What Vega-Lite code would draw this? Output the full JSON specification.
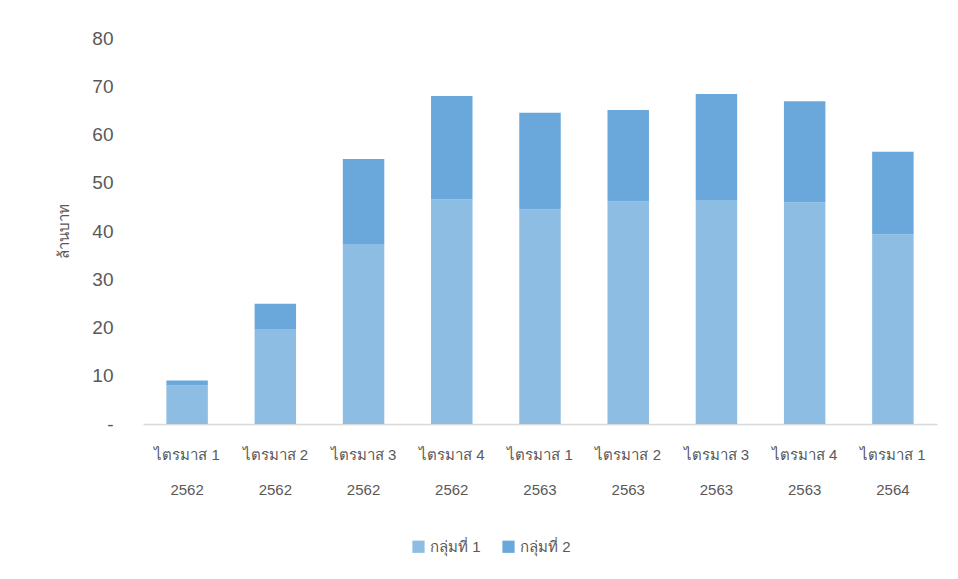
{
  "$schema": "https://vega.github.io/schema/vega-lite/v6.json",
  "autosize": "none",
  "width": 794,
  "height": 386,
  "padding": {"left": 143, "top": 38, "right": 21, "bottom": 155},
  "background": "white",
  "config": {"view": {"stroke": null}, "font": "Liberation Sans"},
  "data": {
    "values": [
      {"period": "ไตรมาส 1|2562", "group": "กลุ่มที่ 1", "gi": 1, "value": 8.0},
      {"period": "ไตรมาส 1|2562", "group": "กลุ่มที่ 2", "gi": 2, "value": 1.0},
      {"period": "ไตรมาส 2|2562", "group": "กลุ่มที่ 1", "gi": 1, "value": 19.7},
      {"period": "ไตรมาส 2|2562", "group": "กลุ่มที่ 2", "gi": 2, "value": 5.2},
      {"period": "ไตรมาส 3|2562", "group": "กลุ่มที่ 1", "gi": 1, "value": 37.3},
      {"period": "ไตรมาส 3|2562", "group": "กลุ่มที่ 2", "gi": 2, "value": 17.6},
      {"period": "ไตรมาส 4|2562", "group": "กลุ่มที่ 1", "gi": 1, "value": 46.6},
      {"period": "ไตรมาส 4|2562", "group": "กลุ่มที่ 2", "gi": 2, "value": 21.4},
      {"period": "ไตรมาส 1|2563", "group": "กลุ่มที่ 1", "gi": 1, "value": 44.5},
      {"period": "ไตรมาส 1|2563", "group": "กลุ่มที่ 2", "gi": 2, "value": 20.0},
      {"period": "ไตรมาส 2|2563", "group": "กลุ่มที่ 1", "gi": 1, "value": 46.1},
      {"period": "ไตรมาส 2|2563", "group": "กลุ่มที่ 2", "gi": 2, "value": 19.0},
      {"period": "ไตรมาส 3|2563", "group": "กลุ่มที่ 1", "gi": 1, "value": 46.4},
      {"period": "ไตรมาส 3|2563", "group": "กลุ่มที่ 2", "gi": 2, "value": 22.0},
      {"period": "ไตรมาส 4|2563", "group": "กลุ่มที่ 1", "gi": 1, "value": 45.9},
      {"period": "ไตรมาส 4|2563", "group": "กลุ่มที่ 2", "gi": 2, "value": 21.0},
      {"period": "ไตรมาส 1|2564", "group": "กลุ่มที่ 1", "gi": 1, "value": 39.3},
      {"period": "ไตรมาส 1|2564", "group": "กลุ่มที่ 2", "gi": 2, "value": 17.1}
    ]
  },
  "mark": {"type": "bar"},
  "encoding": {
    "x": {
      "field": "period",
      "type": "nominal",
      "sort": null,
      "scale": {"paddingInner": 0.53, "paddingOuter": 0.265},
      "axis": {
        "title": null,
        "labelAngle": 0,
        "labelExpr": "split(datum.value, '|')",
        "labelLineHeight": 35,
        "labelFontSize": 15,
        "labelColor": "#595959",
        "domainColor": "#d9d9d9",
        "domainWidth": 1.5,
        "ticks": false,
        "labelPadding": 23
      }
    },
    "y": {
      "field": "value",
      "type": "quantitative",
      "stack": "zero",
      "scale": {"domain": [0, 80]},
      "axis": {
        "values": [0, 10, 20, 30, 40, 50, 60, 70, 80],
        "title": "ล้านบาท",
        "labelExpr": "datum.value == 0 ? '-' : datum.label",
        "grid": false,
        "domain": false,
        "ticks": false,
        "labelPadding": 30,
        "labelFontSize": 19,
        "labelColor": "#595959",
        "titleFontSize": 15,
        "titleFontWeight": "normal",
        "titleColor": "#595959",
        "titlePadding": 20
      }
    },
    "color": {
      "field": "group",
      "type": "nominal",
      "scale": {"domain": ["กลุ่มที่ 1", "กลุ่มที่ 2"], "range": ["#8dbde3", "#6aa8db"]},
      "legend": {
        "title": null,
        "orient": "none",
        "direction": "horizontal",
        "legendX": 268,
        "legendY": 501,
        "symbolType": "square",
        "symbolSize": 150,
        "labelFontSize": 15,
        "labelColor": "#595959",
        "columnPadding": 20
      }
    },
    "order": {"field": "gi", "type": "quantitative"}
  }
}
